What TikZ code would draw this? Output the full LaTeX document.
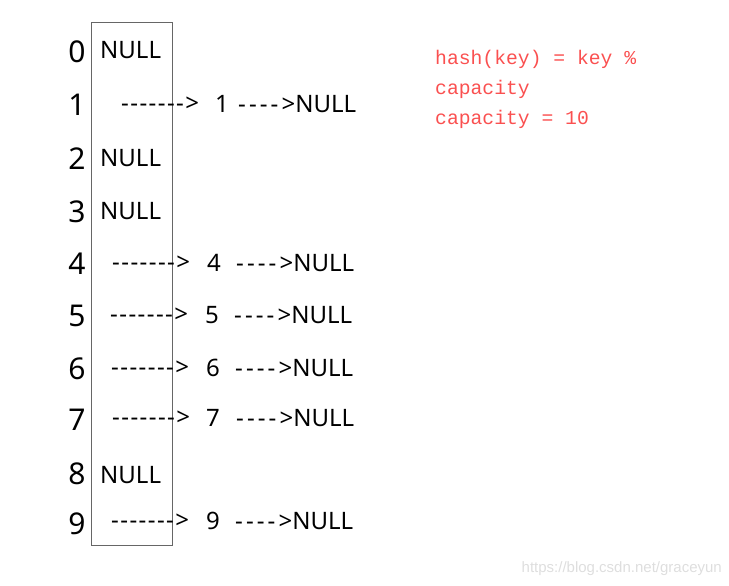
\documentclass[tikz,border=0pt]{standalone}
\usepackage{fontspec}
\newfontfamily\bucketfont{Noto Sans}
\newfontfamily\linkfont{Noto Sans}[LetterSpace=6]
\newfontfamily\tailfont{Noto Sans}[LetterSpace=13]
\newfontfamily\codefont{Liberation Mono}
\newfontfamily\markfont{Liberation Sans}
\definecolor{hashred}{RGB}{250,80,80}
\tikzset{
    index/.style={font=\bucketfont\fontsize{30}{36}\selectfont, inner sep=0pt},
    slot/.style={font=\bucketfont\fontsize{24}{28}\selectfont, inner sep=0pt, anchor=west},
    link/.style={font=\linkfont\fontsize{24}{28}\selectfont, inner sep=0pt},
    tail/.style={font=\tailfont\fontsize{24}{28}\selectfont, inner sep=0pt, anchor=west},
    key/.style={font=\bucketfont\fontsize{24}{28}\selectfont, inner sep=0pt},
    formula/.style={font=\codefont\fontsize{19.7}{24}\selectfont, text=hashred, inner sep=0pt, anchor=west}
}
\newcommand{\tailnull}{---->\bucketfont NULL}
\begin{document}
\begin{tikzpicture}[x=1pt,y=-1pt]
    \useasboundingbox (0,0) rectangle (729,586);

    % the bucket array
    \draw[gray!80!black] (91,22) rectangle (172,545);

    \node[index] (idx0) at (77, 52) {0};
    \node[index] (idx1) at (77,105) {1};
    \node[index] (idx2) at (77,159) {2};
    \node[index] (idx3) at (77,212) {3};
    \node[index] (idx4) at (77,264) {4};
    \node[index] (idx5) at (77,316) {5};
    \node[index] (idx6) at (77,369) {6};
    \node[index] (idx7) at (77,420) {7};
    \node[index] (idx8) at (77,474) {8};
    \node[index] (idx9) at (77,524) {9};

    \node[slot] (slot0) at (100, 50) {NULL};
    \node[slot] (slot2) at (100,158) {NULL};
    \node[slot] (slot3) at (100,211) {NULL};
    \node[slot] (slot8) at (100,475) {NULL};

    % chains hanging off the buckets
    \node[link, anchor=west] (arrow1) at (121,104) {------->};
    \node[key              ] (key1)   at (222,104) {1};
    \node[tail             ] (tail1)  at (238,104) {\tailnull};

    \node[link, anchor=west] (arrow4) at (112,263) {------->};
    \node[key              ] (key4)   at (214,263) {4};
    \node[tail             ] (tail4)  at (236,263) {\tailnull};

    \node[link, anchor=west] (arrow5) at (110,315) {------->};
    \node[key              ] (key5)   at (212,315) {5};
    \node[tail             ] (tail5)  at (234,315) {\tailnull};

    \node[link, anchor=west] (arrow6) at (111,368) {------->};
    \node[key              ] (key6)   at (213,368) {6};
    \node[tail             ] (tail6)  at (235,368) {\tailnull};

    \node[link, anchor=west] (arrow7) at (112,418) {------->};
    \node[key              ] (key7)   at (213,418) {7};
    \node[tail             ] (tail7)  at (236,418) {\tailnull};

    \node[link, anchor=west] (arrow9) at (111,521) {------->};
    \node[key              ] (key9)   at (213,521) {9};
    \node[tail             ] (tail9)  at (235,521) {\tailnull};

    % hash function
    \node[formula] (hash)  at (435, 59) {hash(key) = key \%};
    \node[formula] (cap)   at (435, 89) {capacity};
    \node[formula] (capeq) at (435,119) {capacity = 10};

    \node[font=\markfont\fontsize{15}{17}\selectfont, text=black!13, anchor=east, inner sep=0pt] (mark) at (722,569) {https://blog.csdn.net/graceyun};
\end{tikzpicture}
\end{document}
